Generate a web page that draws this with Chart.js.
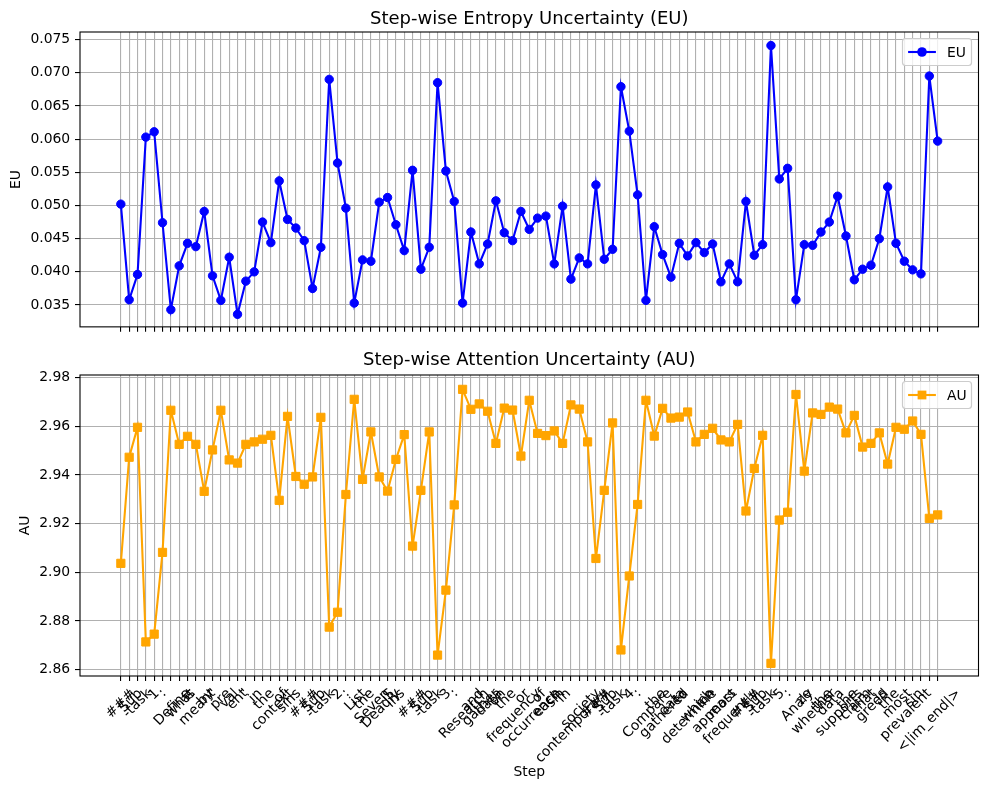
<!DOCTYPE html>
<html>
<head>
<meta charset="utf-8">
<script src="https://cdn.jsdelivr.net/npm/chart.js@4.4.1/dist/chart.umd.min.js"></script>
<style>
  body { margin: 0; background: #fff; }
  .box { position: absolute; left: 0; width: 989px; }
  #topBox { top: 0; height: 340px; }
  #bottomBox { top: 340px; height: 450px; }
</style>
</head>
<body>
<div class="box" id="topBox"><canvas id="euChart" width="989" height="340"></canvas></div>
<div class="box" id="bottomBox"><canvas id="auChart" width="989" height="450"></canvas></div>
<script>
// Tokens of the generated answer (one per step)
const tokens = ["###", " Sub", "-task", " ", "1", ":", " Define", " what", " is", " meant", " by", " '",
    "pre", "val", "ent", "'", " in", " the", " context", " of", " sins", ".\n\n",
    "###", " Sub", "-task", " ", "2", ":", " List", " the", " Seven", " Deadly", " S", "ins", ".\n\n",
    "###", " Sub", "-task", " ", "3", ":", " Research", " and", " gather", " data", " on", " the",
    " frequency", " or", " occurrence", " of", " each", " sin", " in", " contemporary", " society", ".\n\n",
    "###", " Sub", "-task", " ", "4", ":", " Compare", " the", " gathered", " data", " to", " determine",
    " which", " sin", " appears", " most", " frequently", ".\n\n",
    "###", " Sub", "-task", " ", "5", ":", " Analy", "ze", " whether", " the", " data", " supports", " the",
    " claim", " that", " greed", " is", " the", " most", " prevalent", " sin", ".", "<|im_end|>", ""];

const euValues = [0.0502, 0.0358, 0.0396, 0.0603, 0.0611, 0.0474, 0.0343, 0.0409, 0.0443, 0.0438,
    0.0491, 0.0394, 0.0357, 0.0422, 0.0336, 0.0386, 0.0400, 0.0475, 0.0444, 0.0537,
    0.0479, 0.0466, 0.0447, 0.0375, 0.0437, 0.0690, 0.0564, 0.0496, 0.0353, 0.0418,
    0.0416, 0.0505, 0.0512, 0.0471, 0.0432, 0.0553, 0.0404, 0.0437, 0.0685, 0.0552,
    0.0506, 0.0353, 0.0460, 0.0412, 0.0442, 0.0507, 0.0459, 0.0447, 0.0491, 0.0464,
    0.0481, 0.0484, 0.0412, 0.0499, 0.0389, 0.0421, 0.0412, 0.0531, 0.0419, 0.0434,
    0.0679, 0.0612, 0.0516, 0.0357, 0.0468, 0.0426, 0.0392, 0.0443, 0.0424, 0.0444,
    0.0429, 0.0442, 0.0385, 0.0412, 0.0385, 0.0506, 0.0425, 0.0441, 0.0741, 0.0540,
    0.0556, 0.0358, 0.0441, 0.0440, 0.0460, 0.0475, 0.0514, 0.0454, 0.0388, 0.0404,
    0.0410, 0.0450, 0.0528, 0.0443, 0.0416, 0.0403, 0.0397, 0.0695, 0.0597];

const auValues = [2.9037, 2.9473, 2.9596, 2.8714, 2.8746, 2.9082, 2.9666, 2.9526, 2.9559, 2.9526,
    2.9333, 2.9503, 2.9666, 2.9462, 2.9449, 2.9526, 2.9536, 2.9547, 2.9563, 2.9296,
    2.9641, 2.9394, 2.9362, 2.9392, 2.9637, 2.8775, 2.8836, 2.9320, 2.9711, 2.9382,
    2.9577, 2.9392, 2.9334, 2.9464, 2.9566, 2.9108, 2.9337, 2.9577, 2.8660, 2.8927,
    2.9277, 2.9752, 2.9670, 2.9692, 2.9662, 2.9530, 2.9675, 2.9667, 2.9478, 2.9707,
    2.9571, 2.9562, 2.9581, 2.9530, 2.9688, 2.9671, 2.9536, 2.9057, 2.9337, 2.9614,
    2.8681, 2.8985, 2.9279, 2.9707, 2.9560, 2.9674, 2.9634, 2.9638, 2.9659, 2.9536,
    2.9567, 2.9592, 2.9544, 2.9536, 2.9608, 2.9252, 2.9427, 2.9563, 2.8626, 2.9215,
    2.9247, 2.9731, 2.9416, 2.9655, 2.9649, 2.9679, 2.9671, 2.9573, 2.9645, 2.9515,
    2.9530, 2.9573, 2.9445, 2.9596, 2.9588, 2.9622, 2.9567, 2.9222, 2.9236];

const FONT = "'DejaVu Sans', sans-serif";
const TICK_SIZE = 13.9;
const TITLE_SIZE = 18;

Chart.defaults.color = '#000';
Chart.defaults.font.family = FONT;

// Title, box around the plot area and legend in the top right corner
function framePlugin(label, color, style, title, titleY) {
    return {
        id: 'frame',
        afterDatasetsDraw(chart) {
            const ctx = chart.ctx;
            const a = chart.chartArea;
            ctx.save();
            ctx.strokeStyle = '#000';
            ctx.lineWidth = 1.1;
            ctx.strokeRect(a.left, a.top, a.right - a.left, a.bottom - a.top);

            ctx.fillStyle = '#000';
            ctx.font = TITLE_SIZE + 'px ' + FONT;
            ctx.textAlign = 'center';
            ctx.textBaseline = 'middle';
            ctx.fillText(title, (a.left + a.right) / 2, titleY);

            // legend
            const w = 69, h = 27;
            const x = a.right - 7 - w, y = a.top + 6.5;
            ctx.beginPath();
            ctx.roundRect(x, y, w, h, 3);
            ctx.fillStyle = 'rgba(255,255,255,0.8)';
            ctx.fill();
            ctx.strokeStyle = '#cccccc';
            ctx.lineWidth = 1.2;
            ctx.stroke();
            const cy = y + h / 2;
            ctx.strokeStyle = color;
            ctx.lineWidth = 2.1;
            ctx.beginPath();
            ctx.moveTo(x + 5.6, cy);
            ctx.lineTo(x + 33.4, cy);
            ctx.stroke();
            ctx.fillStyle = color;
            if (style === 'circle') {
                ctx.beginPath();
                ctx.arc(x + 19.5, cy, 4.8, 0, Math.PI * 2);
                ctx.fill();
            } else {
                ctx.fillRect(x + 19.5 - 4.4, cy - 4.4, 8.8, 8.8);
            }
            ctx.fillStyle = '#000';
            ctx.font = TICK_SIZE + 'px ' + FONT;
            ctx.textAlign = 'left';
            ctx.fillText(label, x + 44.5, cy + 1);
            ctx.restore();
        }
    };
}

// Rotated step labels, centred on their ticks like matplotlib does
const stepLabels = {
    id: 'stepLabels',
    afterDraw(chart) {
        const ctx = chart.ctx;
        const xs = chart.scales.x;
        const a = chart.chartArea;
        ctx.save();
        ctx.font = TICK_SIZE + 'px ' + FONT;
        ctx.fillStyle = '#000';
        const top = a.bottom + 9.7;
        const lh = TICK_SIZE * 1.17;
        for (let i = 0; i < tokens.length; i++) {
            if (tokens[i].indexOf('\n') >= 0 || tokens[i].trim() === '') continue;
            const w = ctx.measureText(tokens[i]).width;
            const half = (w + lh) * Math.SQRT1_2 / 2;
            ctx.save();
            ctx.translate(xs.getPixelForValue(i), top + half);
            ctx.rotate(-Math.PI / 4);
            ctx.textAlign = 'center';
            ctx.textBaseline = 'middle';
            ctx.fillText(tokens[i], 0, 0);
            ctx.restore();
        }
        ctx.textAlign = 'center';
        ctx.textBaseline = 'middle';
        ctx.fillText('Step', (a.left + a.right) / 2, 432);
        ctx.restore();
    }
};

function points(values) {
    let pts = [];
    for (let i = 0; i < values.length; i++) {
        pts.push({x: i, y: values[i]});
    }
    return pts;
}

function xScale() {
    return {
        type: 'linear',
        min: -4.9,
        max: 102.9,
        afterBuildTicks: function(scale) {
            scale.ticks = tokens.map(function(t, i) { return {value: i}; });
        },
        ticks: {display: false},
        grid: {color: '#b0b0b0', lineWidth: 1.1, tickColor: '#000', tickLength: 5, tickWidth: 1.1},
        border: {display: false}
    };
}

function yScale(title, min, max, step, digits, titlePad) {
    return {
        type: 'linear',
        min: min,
        max: max,
        afterFit: function(scale) { scale.width = 80; },
        ticks: {
            stepSize: step,
            includeBounds: false,
            padding: 4.8,
            font: {size: TICK_SIZE},
            callback: function(v) { return v.toFixed(digits); }
        },
        title: {display: true, text: title, font: {size: TICK_SIZE}, padding: {top: titlePad, bottom: 0}},
        grid: {color: '#b0b0b0', lineWidth: 1.1, tickColor: '#000', tickLength: 5, tickWidth: 1.1},
        border: {display: false}
    };
}

function makeChart(id, label, values, color, style, radius, yOpts, titleText, titleY, padTop, padBottom, extra) {
    let plugins = [framePlugin(label, color, style, titleText, titleY)];
    if (extra) plugins.push(extra);
    return new Chart(document.getElementById(id), {
        type: 'line',
        data: {
            datasets: [{
                label: label,
                data: points(values),
                borderColor: color,
                backgroundColor: color,
                borderWidth: 2.1,
                pointStyle: style,
                pointRadius: radius,
                pointBorderWidth: 1,
                pointBackgroundColor: color,
                pointBorderColor: color,
                tension: 0
            }]
        },
        options: {
            responsive: false,
            animation: false,
            layout: {padding: {left: 0, right: 10.5, top: padTop, bottom: padBottom}},
            scales: {x: xScale(), y: yOpts},
            plugins: {
                legend: {display: false},
                tooltip: {enabled: false},
                title: {display: false}
            }
        },
        plugins: plugins
    });
}

makeChart('euChart', 'EU', euValues, '#0000ff', 'circle', 4.2,
    yScale('EU', 0.03171, 0.07614, 0.005, 3, 8.2),
    'Step-wise Entropy Uncertainty (EU)', 19, 32, 2, null);

makeChart('auChart', 'AU', auValues, '#ffa500', 'rect', 5.8,
    yScale('AU', 2.8574, 2.9811, 0.02, 2, 17.1),
    'Step-wise Attention Uncertainty (AU)', 20, 35, 109, stepLabels);
</script>
</body>
</html>
